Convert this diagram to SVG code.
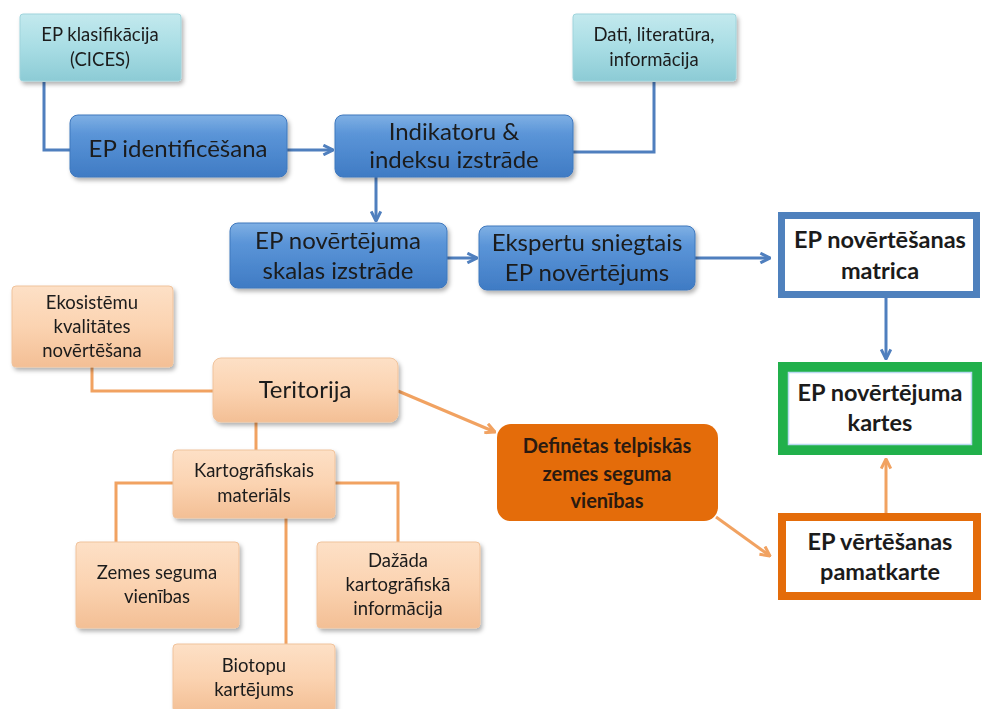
<svg xmlns="http://www.w3.org/2000/svg" width="982" height="709" viewBox="0 0 982 709">
<style>
.t{font-family:Lato,"Open Sans",sans-serif;fill:#1b1b1b;text-anchor:middle}
.s16{font-size:18.5px}
.s22{font-size:24px}
.b{font-weight:bold;font-size:23.5px}
.cb{stroke:#4f7fbe;stroke-width:3;fill:none}
.co{stroke:#f1a261;stroke-width:3;fill:none}
.cyan{fill:url(#gc);stroke:#9fd4dc;stroke-width:1}
.blue{fill:url(#gb);stroke:#3f78bd;stroke-width:1}
.peach{fill:url(#gp);stroke:#f0c39c;stroke-width:1}
</style>
<defs>
<linearGradient id="gc" x1="0" y1="0" x2="0" y2="1"><stop offset="0" stop-color="#c3e9ee"/><stop offset="0.5" stop-color="#a8dde4"/><stop offset="1" stop-color="#8ccbd5"/></linearGradient>
<linearGradient id="gb" x1="0" y1="0" x2="0" y2="1"><stop offset="0" stop-color="#7fb0e4"/><stop offset="0.3" stop-color="#5b95d8"/><stop offset="1" stop-color="#3f7bc4"/></linearGradient>
<linearGradient id="gp" x1="0" y1="0" x2="0" y2="1"><stop offset="0" stop-color="#fde0c6"/><stop offset="0.5" stop-color="#fbd3b1"/><stop offset="1" stop-color="#f3bf95"/></linearGradient>
<filter id="sh" x="-10%" y="-10%" width="130%" height="140%"><feDropShadow dx="2" dy="3" stdDeviation="2" flood-color="#000" flood-opacity="0.3"/></filter>
<marker id="ab" viewBox="0 0 10 10" refX="9" refY="5" markerWidth="12" markerHeight="12" markerUnits="userSpaceOnUse" orient="auto"><path d="M1,1 L9,5 L1,9" fill="none" stroke="#4f7fbe" stroke-width="2.5"/></marker>
<marker id="ao" viewBox="0 0 10 10" refX="9" refY="5" markerWidth="12" markerHeight="12" markerUnits="userSpaceOnUse" orient="auto"><path d="M1,1 L9,5 L1,9" fill="none" stroke="#f1a261" stroke-width="2.5"/></marker>
</defs>
<rect width="982" height="709" fill="#fff"/>
<g id="connectors">
<path class="cb" d="M44,82 V150 H70"/>
<path class="cb" d="M287,150 H333" marker-end="url(#ab)"/>
<path class="cb" d="M654,82 V152 H573"/>
<path class="cb" d="M376,177 V221" marker-end="url(#ab)"/>
<path class="cb" d="M447,258 H477" marker-end="url(#ab)"/>
<path class="cb" d="M695,258 H770" marker-end="url(#ab)"/>
<path class="cb" d="M886,298 V359" marker-end="url(#ab)"/>
<path class="co" d="M886,513 V459" marker-end="url(#ao)"/>
<path class="co" d="M716,517 L770,556" marker-end="url(#ao)"/>
<path class="co" d="M398,391 L495,432" marker-end="url(#ao)"/>
<path class="co" d="M92,367 V391 H213"/>
<path class="co" d="M256,422 V450"/>
<path class="co" d="M173,483 H116 V542"/>
<path class="co" d="M335,483 H398 V542"/>
<path class="co" d="M286,518 V644"/>
</g>
<g id="n-cices" filter="url(#sh)"><rect class="cyan" x="20" y="14" width="161" height="67" rx="3"/><text class="t s16" x="100" y="41">EP klasifikācija</text><text class="t s16" x="100" y="66">(CICES)</text></g>
<g id="n-dati" filter="url(#sh)"><rect class="cyan" x="573" y="14" width="163" height="67" rx="3"/><text class="t s16" x="654" y="41">Dati, literatūra,</text><text class="t s16" x="654" y="66">informācija</text></g>
<g id="n-ident" filter="url(#sh)"><rect class="blue" x="70" y="115" width="217" height="62" rx="8"/><text class="t" style="font-size:24px" x="178" y="157">EP identificēšana</text></g>
<g id="n-indik" filter="url(#sh)"><rect class="blue" x="335" y="115" width="238" height="62" rx="8"/><text class="t s22" x="454" y="140">Indikatoru &amp;</text><text class="t s22" x="454" y="168">indeksu izstrāde</text></g>
<g id="n-skalas" filter="url(#sh)"><rect class="blue" x="230" y="223" width="217" height="65" rx="8"/><text class="t s22" x="338" y="249">EP novērtējuma</text><text class="t s22" x="338" y="279">skalas izstrāde</text></g>
<g id="n-eksp" filter="url(#sh)"><rect class="blue" x="479" y="226" width="216" height="64" rx="8"/><text class="t s22" x="587" y="251">Ekspertu sniegtais</text><text class="t s22" x="587" y="281">EP novērtējums</text></g>
<g id="n-matrica"><rect x="781.5" y="215.5" width="195" height="79" fill="#fff" stroke="#4f81bd" stroke-width="7"/><text class="t b" x="880" y="248">EP novērtēšanas</text><text class="t b" x="880" y="279">matrica</text></g>
<g id="n-kartes"><rect x="783" y="367" width="194" height="83" fill="#fff" stroke="#21b04b" stroke-width="10"/><rect x="788.5" y="372.5" width="183" height="72" fill="none" stroke="#b9d9f0" stroke-width="1.5"/><text class="t b" x="880" y="401">EP novērtējuma</text><text class="t b" x="880" y="431">kartes</text></g>
<g id="n-pamat"><rect x="782" y="517" width="195" height="79" fill="#fff" stroke="#e46c0a" stroke-width="8"/><text class="t b" x="880" y="550">EP vērtēšanas</text><text class="t b" x="880" y="580">pamatkarte</text></g>
<g id="n-def"><rect x="497" y="424" width="221" height="97" rx="14" fill="#e46c0a"/><text class="t b" style="font-size:20px;fill:#2a1a10" x="607" y="453">Definētas telpiskās</text><text class="t b" style="font-size:20px;fill:#2a1a10" x="607" y="481">zemes seguma</text><text class="t b" style="font-size:20px;fill:#2a1a10" x="607" y="508">vienības</text></g>
<g id="n-ekos" filter="url(#sh)"><rect class="peach" x="12" y="286" width="161" height="81" rx="4"/><text class="t s16" x="92" y="309">Ekosistēmu</text><text class="t s16" x="92" y="333">kvalitātes</text><text class="t s16" x="92" y="357">novērtēšana</text></g>
<g id="n-terit" filter="url(#sh)"><rect class="peach" x="213" y="358" width="185" height="64" rx="8"/><text class="t" style="font-size:24px" x="305" y="398">Teritorija</text></g>
<g id="n-karto" filter="url(#sh)"><rect class="peach" x="173" y="450" width="162" height="68" rx="4"/><text class="t s16" x="254" y="477">Kartogrāfiskais</text><text class="t s16" x="254" y="502">materiāls</text></g>
<g id="n-zemes" filter="url(#sh)"><rect class="peach" x="76" y="542" width="163" height="86" rx="4"/><text class="t s16" x="157" y="579">Zemes seguma</text><text class="t s16" x="157" y="603">vienības</text></g>
<g id="n-dazada" filter="url(#sh)"><rect class="peach" x="317" y="542" width="163" height="86" rx="4"/><text class="t s16" x="398" y="567">Dažāda</text><text class="t s16" x="398" y="591">kartogrāfiskā</text><text class="t s16" x="398" y="615">informācija</text></g>
<g id="n-biot" filter="url(#sh)"><rect class="peach" x="173" y="644" width="162" height="68" rx="4"/><text class="t s16" x="254" y="672">Biotopu</text><text class="t s16" x="254" y="696">kartējums</text></g>
</svg>
